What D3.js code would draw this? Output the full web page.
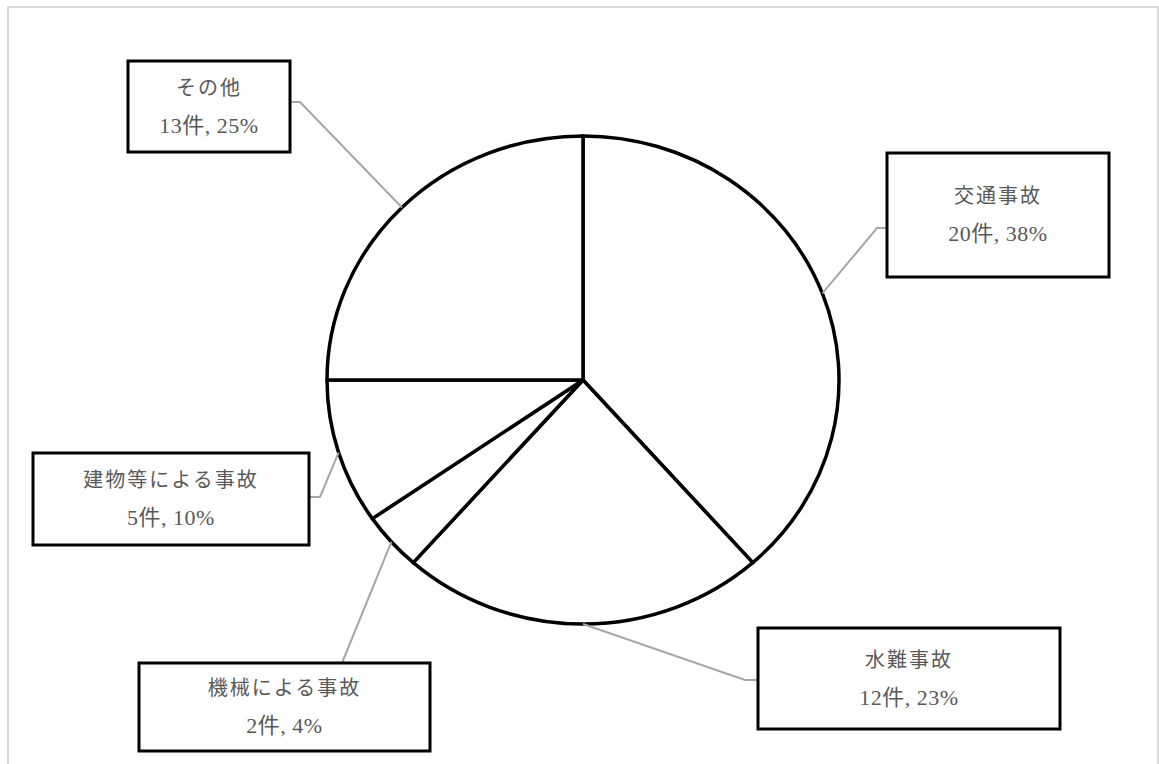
<!DOCTYPE html>
<html>
<head>
<meta charset="utf-8">
<script src="https://cdn.jsdelivr.net/npm/d3@7"></script>
<style>
  body { margin: 0; background: #fff; }
  svg { display: block; }
  .lbl { font-family: "Liberation Serif", "Noto Sans CJK JP", serif; font-size: 20px; fill: #595959; }
</style>
</head>
<body>
<svg id="chart" width="1159" height="764"></svg>
<script>
// 事故の種類と件数
const categories = ["交通事故", "水難事故", "機械による事故", "建物等による事故", "その他"];
const counts = [20, 12, 2, 5, 13];

// ラベル枠の位置 (レイアウト用)
const boxes = [
  { x: 887, y: 153, w: 222, h: 124, side: "left", ly: 228, stub: 10 },
  { x: 758, y: 628, w: 302, h: 101, side: "left", ly: 680, stub: 13 },
  { x: 139, y: 663, w: 291, h: 88, side: "top", lx: 342 },
  { x: 33, y: 453, w: 276, h: 92, side: "right", ly: 497, stub: 11 },
  { x: 128, y: 61, w: 162, h: 91, side: "right", ly: 102, stub: 10 }
];

const width = 1159, height = 764;
const cx = 583, cy = 380;
const rx = 256, ry = 244;

const svg = d3.select("#chart");

// 外枠
svg.append("rect")
  .attr("x", 8).attr("y", 7)
  .attr("width", 1150).attr("height", 770)
  .attr("fill", "none")
  .attr("stroke", "#d9d9d9")
  .attr("stroke-width", 2);

const data = categories.map((c, i) => ({ name: c, value: counts[i] }));
const total = d3.sum(counts);

const pie = d3.pie().sort(null).value(d => d.value);
const arcs = pie(data);

const arc = d3.arc().innerRadius(0).outerRadius(rx);

// 円グラフ (少し縦につぶれた楕円)
const g = svg.append("g")
  .attr("transform", `translate(${cx},${cy}) scale(1,${ry / rx})`);

g.selectAll("path")
  .data(arcs)
  .enter().append("path")
  .attr("d", arc)
  .attr("fill", "#fff")
  .attr("stroke", "#000")
  .attr("stroke-width", 3.5)
  .attr("stroke-linejoin", "round")
  .attr("vector-effect", "non-scaling-stroke");

// 引き出し線
const leader = d3.line();
arcs.forEach((a, i) => {
  const mid = (a.startAngle + a.endAngle) / 2;
  const ax = cx + rx * Math.sin(mid);
  const ay = cy - ry * Math.cos(mid);
  const b = boxes[i];
  let pts;
  if (b.side === "left") {
    pts = [[ax, ay], [b.x - b.stub, b.ly], [b.x, b.ly]];
  } else if (b.side === "right") {
    pts = [[ax, ay], [b.x + b.w + b.stub, b.ly], [b.x + b.w, b.ly]];
  } else {
    pts = [[ax, ay], [b.lx, b.y]];
  }
  svg.append("path")
    .attr("d", leader(pts))
    .attr("fill", "none")
    .attr("stroke", "#a6a6a6")
    .attr("stroke-width", 2);
});

// ラベル枠とテキスト
const label = svg.selectAll("g.label")
  .data(arcs)
  .enter().append("g")
  .attr("class", "label")
  .attr("transform", (d, i) => `translate(${boxes[i].x},${boxes[i].y})`);

label.append("rect")
  .attr("width", (d, i) => boxes[i].w)
  .attr("height", (d, i) => boxes[i].h)
  .attr("fill", "#fff")
  .attr("stroke", "#000")
  .attr("stroke-width", 3);

label.append("text")
  .attr("class", "lbl")
  .attr("x", (d, i) => boxes[i].w / 2)
  .attr("y", (d, i) => boxes[i].h / 2 - 12)
  .attr("text-anchor", "middle")
  .style("letter-spacing", "2px")
  .text(d => d.data.name);

label.append("text")
  .attr("class", "lbl")
  .attr("x", (d, i) => boxes[i].w / 2)
  .attr("y", (d, i) => boxes[i].h / 2 + 26)
  .attr("text-anchor", "middle")
  .style("font-size", "22px")
  .style("letter-spacing", "0.5px")
  .text(d => `${d.data.value}件, ${Math.round(d.data.value / total * 100)}%`);
</script>
</body>
</html>
